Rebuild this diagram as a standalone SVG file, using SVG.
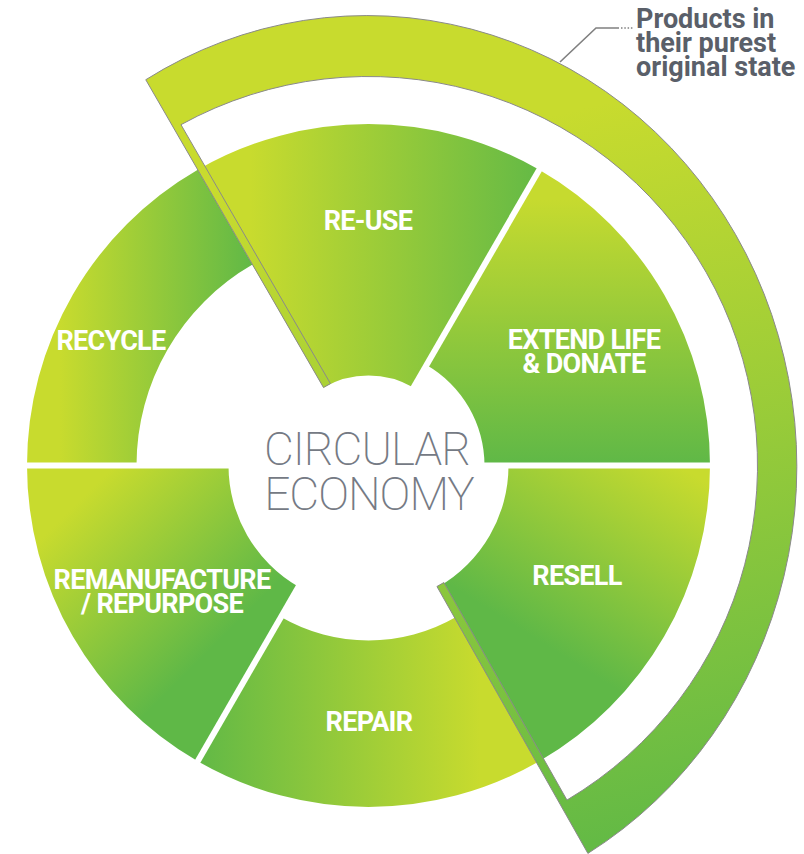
<svg xmlns="http://www.w3.org/2000/svg" width="804" height="854" viewBox="0 0 804 854">
<defs>
<style>
.lbl{font-family:Roboto,"Liberation Sans",sans-serif;font-weight:bold;font-size:27px;fill:#ffffff;text-anchor:middle;letter-spacing:-0.7px}
.ctr{font-family:Roboto,"Liberation Sans",sans-serif;font-weight:200;font-size:46px;fill:#757a84;text-anchor:middle;letter-spacing:-1px}
.note{font-family:Roboto,"Liberation Sans",sans-serif;font-weight:bold;font-size:27px;fill:#5a5f69}
.gap{stroke:#ffffff;stroke-width:6;fill:none}
.lead{stroke:#808080;stroke-width:1.6;fill:none}
</style>
<linearGradient id="gReuse" gradientUnits="userSpaceOnUse" x1="250" y1="0" x2="545" y2="0"><stop offset="0" stop-color="#c8db2e"/><stop offset="1" stop-color="#62b946"/></linearGradient>
<linearGradient id="gExtend" gradientUnits="userSpaceOnUse" x1="0" y1="200" x2="0" y2="465"><stop offset="0" stop-color="#c6da2f"/><stop offset="1" stop-color="#5fb847"/></linearGradient>
<linearGradient id="gResell" gradientUnits="userSpaceOnUse" x1="520" y1="629" x2="638" y2="440"><stop offset="0" stop-color="#5fb847"/><stop offset="1" stop-color="#c8db2e"/></linearGradient>
<linearGradient id="gRepair" gradientUnits="userSpaceOnUse" x1="200" y1="0" x2="480" y2="0"><stop offset="0" stop-color="#62b946"/><stop offset="1" stop-color="#c8db2e"/></linearGradient>
<linearGradient id="gReman" gradientUnits="userSpaceOnUse" x1="80" y1="500" x2="220" y2="640"><stop offset="0" stop-color="#c8db2e"/><stop offset="1" stop-color="#5fb847"/></linearGradient>
<linearGradient id="gRecycle" gradientUnits="userSpaceOnUse" x1="60" y1="0" x2="250" y2="0"><stop offset="0" stop-color="#c8db2e"/><stop offset="1" stop-color="#62b946"/></linearGradient>
<linearGradient id="gBand" gradientUnits="userSpaceOnUse" x1="400" y1="150" x2="560" y2="850"><stop offset="0" stop-color="#c8db2e"/><stop offset="1" stop-color="#64ba45"/></linearGradient>
</defs>
<rect width="804" height="854" fill="#ffffff"/>

<g id="reuse">
<path d="M197.75 169.75 A341.5 341.5 0 0 1 539.25 169.75 L413.5 387.56 A90 90 0 0 0 323.5 387.56 Z" fill="url(#gReuse)"/>
<text class="lbl" x="368" y="230">RE-USE</text>
</g>
<g id="extend">
<path d="M539.25 169.75 A341.5 341.5 0 0 1 710 465.5 L484.5 465.5 A116 116 0 0 0 426.5 365.04 Z" fill="url(#gExtend)"/>
<text class="lbl" x="584" y="349">EXTEND LIFE</text>
<text class="lbl" x="584" y="373">&amp; DONATE</text>
</g>
<g id="resell">
<path d="M710 465.5 A341.5 341.5 0 0 1 539.25 761.25 L438.5 586.74 A140 140 0 0 0 508.5 465.5 Z" fill="url(#gResell)"/>
<text class="lbl" x="577" y="585">RESELL</text>
</g>
<g id="repair">
<path d="M539.25 761.25 A341.5 341.5 0 0 1 197.75 761.25 L281 617.05 A175 175 0 0 0 456 617.05 Z" fill="url(#gRepair)"/>
<text class="lbl" x="369" y="731">REPAIR</text>
</g>
<g id="remanufacture">
<path d="M197.75 761.25 A341.5 341.5 0 0 1 27 465.5 L228.5 465.5 A140 140 0 0 0 298.5 586.74 Z" fill="url(#gReman)"/>
<text class="lbl" x="162" y="589">REMANUFACTURE</text>
<text class="lbl" x="162" y="613">/ REPURPOSE</text>
</g>
<g id="recycle">
<path d="M27 465.5 A341.5 341.5 0 0 1 197.75 169.75 L252.5 264.58 A232 232 0 0 0 136.5 465.5 Z" fill="url(#gRecycle)"/>
<text class="lbl" x="111" y="350">RECYCLE</text>
</g>

<g id="gaps">
<line class="gap" x1="368.5" y1="465.5" x2="541" y2="166.7"/>
<line class="gap" x1="368.5" y1="465.5" x2="713.5" y2="465.5"/>
<line class="gap" x1="368.5" y1="465.5" x2="196" y2="764.3"/>
<line class="gap" x1="368.5" y1="465.5" x2="23.5" y2="465.5"/>
</g>

<g id="center">
<text class="ctr" x="367" y="465">CIRCULAR</text>
<text class="ctr" x="369" y="510">ECONOMY</text>
</g>

<g id="band">
<path d="M145.77 79.72 A430 451 0 1 1 587.9 853.4 L436.94 586.49 L443.9 582.55 L566.96 800.06 A389 389 0 0 0 180.97 124.68 L330.43 383.56 L323.5 387.56 Z" fill="url(#gBand)" stroke="#8a8a8a" stroke-width="1" stroke-linejoin="miter"/>
</g>

<g id="connectors">
<polyline class="lead" points="560,62 596,28 619,28"/>
<line class="lead" x1="621" y1="28" x2="634" y2="28" stroke-dasharray="1.5 1.8"/>
</g>

<g id="note">
<text class="note" x="636" y="28">Products in</text>
<text class="note" x="636" y="52">their purest</text>
<text class="note" x="636" y="76">original state</text>
</g>
</svg>
